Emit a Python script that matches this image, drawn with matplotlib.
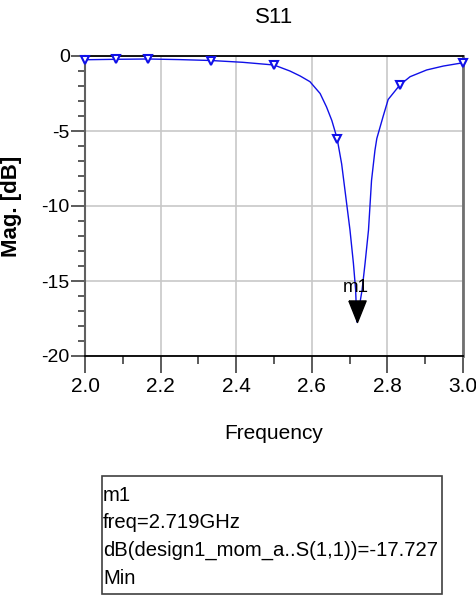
import matplotlib
matplotlib.use("Agg")
import matplotlib.pyplot as plt
from matplotlib.patches import Rectangle
from matplotlib.ticker import MultipleLocator

plt.rcParams['font.family'] = ['Liberation Sans', 'DejaVu Sans']
plt.rcParams['axes.unicode_minus'] = False

# S11 trace (GHz, dB)
freq = [2.0, 2.083, 2.167, 2.25, 2.333, 2.417, 2.5, 2.542, 2.569, 2.595,
        2.622, 2.639, 2.653, 2.667, 2.679, 2.690, 2.701, 2.710, 2.716, 2.719,
        2.733, 2.741, 2.750, 2.758, 2.767, 2.772, 2.789, 2.802, 2.833, 2.860,
        2.904, 2.948, 3.0]
s11_db = [-0.25, -0.22, -0.20, -0.24, -0.30, -0.42, -0.60, -1.00, -1.33, -1.71,
          -2.50, -3.40, -4.30, -5.50, -7.20, -9.40, -11.6, -13.8, -15.6, -17.727,
          -15.6, -13.8, -11.6, -8.30, -6.30, -5.50, -4.00, -2.90, -1.93, -1.38,
          -0.93, -0.67, -0.45]
marker_freq = [2.0, 2.083, 2.167, 2.333, 2.5, 2.667, 2.833, 3.0]

m1_freq = 2.719
m1_db = -17.727
readout = ["m1", "freq=2.719GHz", "dB(design1_mom_a..S(1,1))=-17.727", "Min"]

W, H = 476, 596
fig = plt.figure(figsize=(W/100, H/100), dpi=100)
ax = fig.add_axes([85/W, 1-356/H, 378/W, 300/H])

marks = [freq.index(f) for f in marker_freq]
ax.plot(freq, s11_db, color='#1010e8', lw=1.0, marker='v', markevery=marks,
        markersize=6, markerfacecolor='white', markeredgecolor='#1010e8',
        markeredgewidth=1.5, zorder=3, clip_on=False)

# marker m1: black triangle with its tip on the minimum
tri = [(-0.4, 1.0), (0.4, 1.0), (0.0, 0.0), (-0.4, 1.0)]
ax.plot([m1_freq], [m1_db], marker=tri, markersize=31, color='black',
        linestyle='none', zorder=4)
ax.annotate("m1", (m1_freq, m1_db), xytext=(-1, 25), textcoords='offset points',
            ha='center', va='center', fontsize=13.5, zorder=5)

ax.set_xlim(2.0, 3.0)
ax.set_ylim(-20, 0)
ax.xaxis.set_major_locator(MultipleLocator(0.2))
ax.xaxis.set_minor_locator(MultipleLocator(0.1))
ax.yaxis.set_major_locator(MultipleLocator(5))
ax.yaxis.set_minor_locator(MultipleLocator(1))
ax.xaxis.set_major_formatter(plt.FormatStrFormatter('%.1f'))
ax.grid(True, which='major', color='#c8c8c8', lw=1.2)
ax.tick_params(axis='x', which='major', length=12, width=1.2, labelsize=15, pad=3, color='#404040')
ax.tick_params(axis='x', which='minor', length=6, width=1.2, color='#404040')
ax.tick_params(axis='y', which='major', length=10, width=1.2, labelsize=14, pad=1, color='#404040')
ax.tick_params(axis='y', which='minor', length=5, width=1.2, color='#404040')
for s in ['top', 'bottom']:
    ax.spines[s].set_color('black')
    ax.spines[s].set_linewidth(1.3)
ax.spines['left'].set_color('#606060')
ax.spines['left'].set_linewidth(1.5)
ax.spines['right'].set_color('#707070')
ax.spines['right'].set_linewidth(2)

ax.set_title("S11", fontsize=16, pad=24)
ax.set_xlabel("Frequency", fontsize=15, labelpad=20)
ax.set_ylabel("Mag. [dB]", fontsize=16, fontweight='bold', labelpad=14)

# marker readout box
fig.patches.append(Rectangle((102/W, 1-594/H), 340/W, 118/H,
                             transform=fig.transFigure, fill=False,
                             edgecolor='#404040', lw=1.2))
for line, base in zip(readout, [501, 528, 556, 584]):
    fig.text(103/W, 1-base/H, line, ha='left', va='baseline', fontsize=14.6)

fig.savefig("out.png", dpi=100)
